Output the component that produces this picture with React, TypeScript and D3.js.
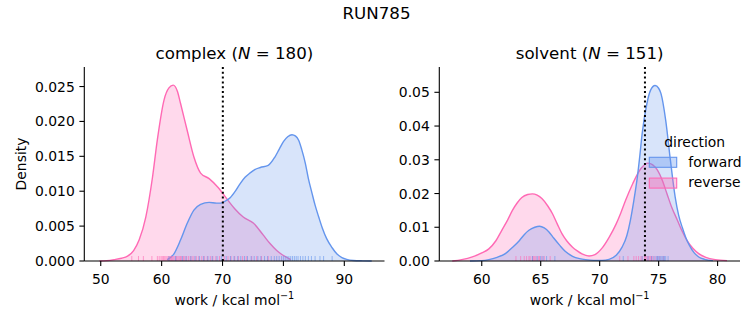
import React from 'react';
import * as d3 from 'd3';

// ---- data ----
const complexReverseX = [49.8, 51.0, 52.2, 53.4, 54.4, 55.4, 56.3, 57.4, 58.5, 59.3, 60.4, 61.2, 61.9, 62.6, 63.1, 64.2, 65.3, 66.4, 67.8, 69.2, 70.8, 72.0, 73.4, 75.1, 76.7, 77.8, 78.9, 79.8, 80.6, 81.2];
const complexReverseY = [0, 0.00005, 0.0002, 0.0004, 0.0007, 0.0015, 0.003, 0.0063, 0.012, 0.0174, 0.0231, 0.0248, 0.0252, 0.0243, 0.0226, 0.0187, 0.0149, 0.0126, 0.0118, 0.0106, 0.0088, 0.0075, 0.0063, 0.0054, 0.0037, 0.0025, 0.0015, 0.0009, 0.0005, 0.0002];

const complexForwardX = [60.9, 62.0, 63.1, 64.2, 65.3, 66.4, 67.8, 69.0, 69.7, 70.5, 71.3, 72.1, 72.9, 73.7, 74.5, 75.3, 76.2, 77.5, 78.6, 79.3, 80.0, 80.7, 81.4, 82.0, 82.5, 83.0, 83.6, 84.1, 84.7, 85.2, 85.8, 86.4, 87.1, 88.0, 88.8, 89.6, 90.4, 91.5, 93.0, 94.5];
const complexForwardY = [0.0002, 0.001, 0.003, 0.0054, 0.0073, 0.0081, 0.0084, 0.0083, 0.0083, 0.0086, 0.0091, 0.0100, 0.0111, 0.0120, 0.0126, 0.0131, 0.0134, 0.0137, 0.0149, 0.0160, 0.0171, 0.0178, 0.0181, 0.0179, 0.0173, 0.0160, 0.0140, 0.0118, 0.0097, 0.0080, 0.0063, 0.0047, 0.0032, 0.0019, 0.0010, 0.0005, 0.00024, 0.00008, 0.00002, 0];

const solventReverseX = [57.5, 58.3, 59.2, 60.0, 60.6, 61.2, 61.7, 62.2, 62.6, 63.0, 63.4, 63.9, 64.3, 64.7, 65.1, 65.6, 66.0, 66.4, 66.8, 67.2, 67.7, 68.1, 68.5, 69.1, 69.6, 70.2, 70.8, 71.4, 71.8, 72.2, 72.8, 73.5, 74.1, 74.5, 74.9, 75.3, 75.7, 76.1, 76.6, 77.0, 77.4, 77.9, 78.4, 79.0, 79.8, 80.8];
const solventReverseY = [0, 0.0004, 0.0012, 0.0024, 0.0036, 0.0060, 0.0091, 0.0122, 0.015, 0.0172, 0.0188, 0.0197, 0.0199, 0.0195, 0.0185, 0.0163, 0.014, 0.0110, 0.0081, 0.0060, 0.0041, 0.0030, 0.0021, 0.0015, 0.0019, 0.0038, 0.0070, 0.011, 0.0143, 0.018, 0.0229, 0.0274, 0.029, 0.0285, 0.0269, 0.0240, 0.0200, 0.0160, 0.012, 0.0088, 0.0061, 0.0038, 0.0022, 0.0011, 0.0004, 0.0001];

const solventForwardX = [59.0, 60.0, 60.6, 61.3, 62.0, 62.6, 63.2, 63.6, 64.0, 64.5, 64.9, 65.3, 65.7, 66.1, 66.6, 67.1, 67.7, 68.3, 68.8, 69.5, 70.2, 70.8, 71.4, 71.9, 72.3, 72.6, 72.9, 73.2, 73.4, 73.6, 74.0, 74.3, 74.7, 75.0, 75.2, 75.6, 76.0, 76.4, 76.7, 77.0, 77.3, 77.6, 78.0, 78.4, 78.9, 79.6];
const solventForwardY = [0, 0.0001, 0.0004, 0.0011, 0.0022, 0.0040, 0.0061, 0.0078, 0.0091, 0.0100, 0.0103, 0.0098, 0.0086, 0.0068, 0.0047, 0.0028, 0.0014, 0.0007, 0.0004, 0.0002, 0.0002, 0.0005, 0.0017, 0.0041, 0.0075, 0.0120, 0.0180, 0.0250, 0.0310, 0.0377, 0.0466, 0.0505, 0.0520, 0.0512, 0.0496, 0.0417, 0.0298, 0.0190, 0.0135, 0.0100, 0.0070, 0.0047, 0.0025, 0.0012, 0.0005, 0.0001];

const complexReverseRug = [55.1, 56.2, 57.0, 58.4, 59.3, 59.6, 59.9, 60.1, 60.3, 60.5, 60.7, 60.9, 61.1, 61.3, 61.5, 61.6, 61.8, 62.0, 62.2, 62.4, 62.5, 62.7, 62.9, 63.1, 63.3, 63.6, 63.8, 64.1, 64.4, 64.7, 65.0, 65.3, 65.7, 66.1, 66.6, 67.0, 67.5, 68.0, 68.4, 68.9, 69.5, 70.3, 70.9, 71.4, 72.0, 72.6, 73.3, 73.9, 74.8, 75.6, 76.4, 77.5];
const complexForwardRug = [61.2, 62.3, 63.4, 64.0, 64.8, 65.5, 66.2, 66.9, 67.6, 68.3, 69.1, 69.8, 70.6, 71.3, 71.9, 72.5, 73.0, 73.6, 74.1, 74.7, 75.2, 75.8, 76.3, 76.9, 77.4, 78.0, 78.5, 78.9, 79.3, 79.7, 80.0, 80.3, 80.6, 80.9, 81.2, 81.5, 81.8, 82.1, 82.4, 82.8, 83.2, 83.6, 84.1, 84.6, 85.2, 86.0, 86.6, 88.0];
const solventReverseRug = [62.9, 63.3, 63.6, 63.8, 64.0, 64.1, 64.3, 64.4, 64.5, 64.6, 64.8, 64.9, 65.1, 65.3, 65.8, 71.7, 72.4, 72.9, 73.1, 73.3, 73.5, 73.6, 73.8, 73.9, 74.0, 74.1, 74.2, 74.3, 74.4, 74.5, 74.7, 74.9, 75.1, 75.4];
const solventForwardRug = [64.3, 64.7, 65.0, 65.2, 65.5, 66.2, 72.0, 73.6, 74.1, 74.4, 74.6, 74.8, 74.9, 75.0, 75.1, 75.2, 75.3, 75.4, 75.5, 75.6, 75.8];

const complexXTicks = [50, 60, 70, 80, 90];
const complexYTicks = [0, 0.005, 0.01, 0.015, 0.02, 0.025];
const solventXTicks = [60, 65, 70, 75, 80];
const solventYTicks = [0, 0.01, 0.02, 0.03, 0.04, 0.05];

const complexMarker = 70.05;
const solventMarker = 73.84;

const directions = ['forward', 'reverse'];

const FONT = 'DejaVu Sans, sans-serif';
const BLUE = '#6495ED';
const PINK = '#FF69B4';

const zip = (xs: number[], ys: number[]) => xs.map((x, i) => [x, ys[i]] as [number, number]);

type PanelProps = {
  name: string;
  n: number;
  x0: number; x1: number;
  xDomain: [number, number];
  yDomain: [number, number];
  xTicks: number[];
  yTicks: number[];
  yFmt: (v: number) => string;
  forward: [number, number][];
  reverse: [number, number][];
  forwardRug: number[];
  reverseRug: number[];
  marker: number;
  showYLabel: boolean;
};

const Y0 = 67, Y1 = 261;

function Panel(p: PanelProps) {
  const x = d3.scaleLinear().domain(p.xDomain).range([p.x0, p.x1]);
  const y = d3.scaleLinear().domain(p.yDomain).range([Y1, Y0]);
  const area = d3.area<[number, number]>().x(d => x(d[0])).y0(Y1).y1(d => y(d[1])).curve(d3.curveMonotoneX);
  const line = d3.line<[number, number]>().x(d => x(d[0])).y(d => y(d[1])).curve(d3.curveMonotoneX);
  const cx = (p.x0 + p.x1) / 2;
  const series = [
    { data: p.reverse, color: PINK },
    { data: p.forward, color: BLUE },
  ];
  return (
    <g>
      {series.map((s, i) => (
        <g key={i}>
          <path d={area(s.data) || ''} fill={s.color} fillOpacity={0.25} stroke="none" />
          <path d={line(s.data) || ''} fill="none" stroke={s.color} strokeWidth={1.4} />
        </g>
      ))}
      {p.reverseRug.map((v, i) => (
        <line key={'r' + i} x1={x(v)} x2={x(v)} y1={Y1} y2={Y1 - 5} stroke={PINK} strokeOpacity={0.6} strokeWidth={1} />
      ))}
      {p.forwardRug.map((v, i) => (
        <line key={'f' + i} x1={x(v)} x2={x(v)} y1={Y1} y2={Y1 - 5} stroke={BLUE} strokeOpacity={0.6} strokeWidth={1} />
      ))}
      <line x1={x(p.marker)} x2={x(p.marker)} y1={Y0} y2={Y1} stroke="#000" strokeWidth={2} strokeDasharray="2,2.8" />
      {/* spines */}
      <line x1={p.x0} x2={p.x0} y1={Y0} y2={Y1} stroke="#000" strokeWidth={1.1} />
      <line x1={p.x0} x2={p.x1} y1={Y1} y2={Y1} stroke="#000" strokeWidth={1.1} />
      {p.xTicks.map(t => (
        <g key={'xt' + t}>
          <line x1={x(t)} x2={x(t)} y1={Y1} y2={Y1 + 4.9} stroke="#000" strokeWidth={1.1} />
          <text x={x(t)} y={284} textAnchor="middle" fontSize={13.9} fontFamily={FONT} fill="#000">{t}</text>
        </g>
      ))}
      {p.yTicks.map(t => (
        <g key={'yt' + t}>
          <line x1={p.x0 - 4.9} x2={p.x0} y1={y(t)} y2={y(t)} stroke="#000" strokeWidth={1.1} />
          <text x={p.x0 - 9.5} y={y(t) + 5} textAnchor="end" fontSize={13.9} fontFamily={FONT} fill="#000">{p.yFmt(t)}</text>
        </g>
      ))}
      <text x={cx} y={305} textAnchor="middle" fontSize={13.9} fontFamily={FONT} fill="#000">
        work / kcal mol<tspan dy={-6} fontSize={9.7}>−1</tspan>
      </text>
      {p.showYLabel && (
        <text transform={`translate(${26},${(Y0 + Y1) / 2}) rotate(-90)`} textAnchor="middle" fontSize={13.9} fontFamily={FONT} fill="#000">Density</text>
      )}
      <text x={cx} y={59} textAnchor="middle" fontSize={16.67} fontFamily={FONT} fill="#000">
        {p.name} (<tspan fontStyle="italic">N</tspan> = {p.n})
      </text>
    </g>
  );
}

export default function App() {
  const legendColors = [BLUE, PINK];
  return (
    <svg width={753} height={325} style={{ position: 'absolute', left: 0, top: 0, background: '#fff' }}>
      <rect x={0} y={0} width={753} height={325} fill="#fff" />
      <text x={376.5} y={19} textAnchor="middle" fontSize={16.67} fontFamily={FONT} fill="#000">RUN785</text>
      <Panel
        name="complex" n={180}
        x0={84.3} x1={384.5} xDomain={[47.3, 96.6]} yDomain={[0, 0.0278]}
        xTicks={complexXTicks} yTicks={complexYTicks} yFmt={d3.format('.3f')}
        forward={zip(complexForwardX, complexForwardY)} reverse={zip(complexReverseX, complexReverseY)}
        forwardRug={complexForwardRug} reverseRug={complexReverseRug}
        marker={complexMarker} showYLabel={true}
      />
      <Panel
        name="solvent" n={151}
        x0={439.3} x1={740} xDomain={[56.4, 81.9]} yDomain={[0, 0.0575]}
        xTicks={solventXTicks} yTicks={solventYTicks} yFmt={d3.format('.2f')}
        forward={zip(solventForwardX, solventForwardY)} reverse={zip(solventReverseX, solventReverseY)}
        forwardRug={solventForwardRug} reverseRug={solventReverseRug}
        marker={solventMarker} showYLabel={false}
      />
      <text x={694.7} y={146.5} textAnchor="middle" fontSize={13.9} fontFamily={FONT} fill="#000">direction</text>
      {directions.map((d, i) => (
        <g key={d}>
          <rect x={649.3} y={157.3 + i * 20.8} width={27.4} height={10} fill={legendColors[i]} fillOpacity={0.35} stroke={legendColors[i]} strokeWidth={1.1} />
          <text x={688.3} y={166.5 + i * 20.6} fontSize={13.9} fontFamily={FONT} fill="#000">{d}</text>
        </g>
      ))}
    </svg>
  );
}
